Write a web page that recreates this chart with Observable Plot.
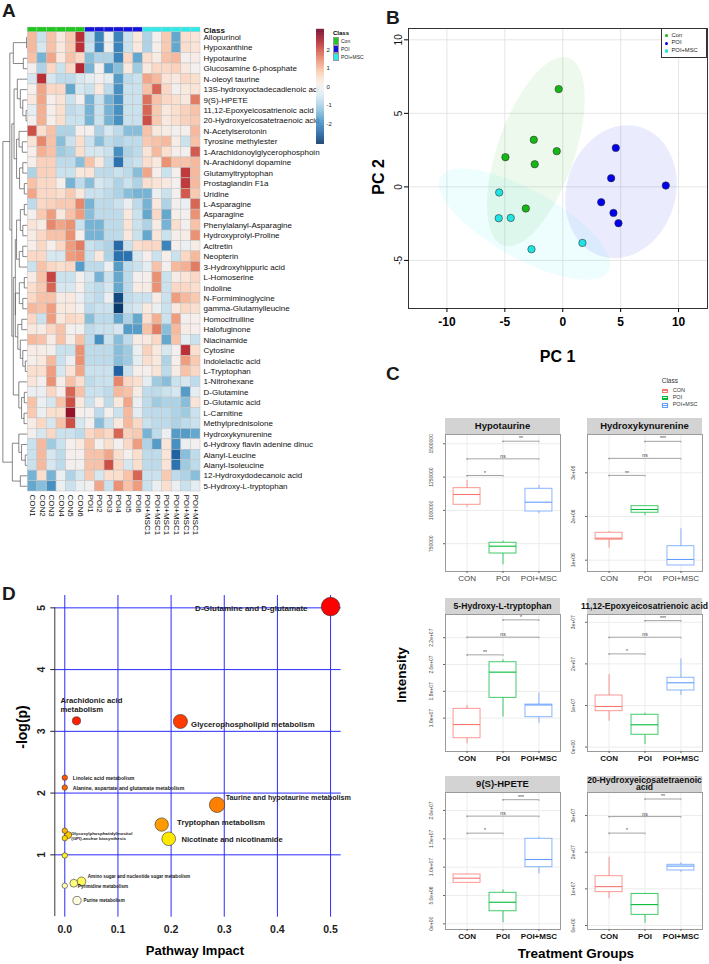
<!DOCTYPE html>
<html><head><meta charset="utf-8">
<script src="https://cdn.jsdelivr.net/npm/d3@7"></script>
<script src="https://cdn.jsdelivr.net/npm/@observablehq/plot@0.6"></script>
<style>
body{margin:0;background:#fff;font-family:"Liberation Sans",Arial,sans-serif;}
#fig{position:relative;width:709px;height:964px;overflow:hidden;background:#fff;}
#fig svg{overflow:visible;}
</style></head>
<body><div id="fig"></div>
<script>
// ================= DATA =================
// Panel A heatmap
const metabolites = ["Allopurinol","Hypoxanthine","Hypotaurine","Glucosamine 6-phosphate","N-oleoyl taurine","13S-hydroxyoctadecadienoic aci","9(S)-HPETE","11,12-Epoxyeicosatrienoic acid","20-Hydroxyeicosatetraenoic acid","N-Acetylserotonin","Tyrosine methylester","1-Arachidonoylglycerophosphoin","N-Arachidonyl dopamine","Glutamyltryptophan","Prostaglandin F1a","Uridine","L-Asparagine","Asparagine","Phenylalanyl-Asparagine","Hydroxyprolyl-Proline","Acitretin","Neopterin","3-Hydroxyhippuric acid","L-Homoserine","Indoline","N-Formiminoglycine","gamma-Glutamylleucine","Homocitrulline","Halofuginone","Niacinamide","Cytosine","Indolelactic acid","L-Tryptophan","1-Nitrohexane","D-Glutamine","D-Glutamic acid","L-Carnitine","Methylprednisolone","Hydroxykynurenine","6-Hydroxy flavin adenine dinuc","Alanyl-Leucine","Alanyl-Isoleucine","12-Hydroxydodecanoic acid","5-Hydroxy-L-tryptophan"];
const samples = ["CON1","CON2","CON3","CON4","CON5","CON6","POI1","POI2","POI3","POI4","POI5","POI6","POI+MSC1","POI+MSC1","POI+MSC1","POI+MSC1","POI+MSC1","POI+MSC1"];
const sampleGroup = ["Con","Con","Con","Con","Con","Con","POI","POI","POI","POI","POI","POI","POI+MSC","POI+MSC","POI+MSC","POI+MSC","POI+MSC","POI+MSC"];
const classGroups = ["Con","POI","POI+MSC"];
const heatValues = [
[1.0,-0.65,0.9,0.3,0.8,2.3,-0.8,-2.05,-0.15,-2.05,-0.65,0.3,-0.95,0.0,0.8,-1.6,0.5,0.4],
[1.0,-0.5,0.9,0.3,0.8,2.3,-0.65,-2.05,-0.15,-2.05,-0.65,0.3,-0.95,0.1,0.8,-1.6,0.5,0.4],
[0.9,-1.45,1.2,0.3,0.9,0.6,-1.3,-0.95,-0.95,-2.05,0.6,-1.6,0.5,0.2,0.9,1.0,0.0,0.2],
[0.0,-0.95,0.6,-0.65,0.6,2.4,-1.45,0.0,-1.75,-1.3,0.3,-1.1,0.3,0.6,0.6,0.7,0.3,0.0],
[-0.5,2.3,-0.5,-0.8,-0.8,-0.5,-0.3,0.0,-0.3,-1.75,-0.8,-0.65,1.2,1.0,0.4,0.3,0.6,0.5],
[0.1,1.2,0.6,0.6,-1.6,-0.5,-0.65,0.3,-0.8,-1.9,-0.65,-0.65,0.9,1.8,0.6,0.0,0.3,0.4],
[0.3,1.2,0.1,0.4,-0.65,0.0,-1.45,-0.65,-1.45,-1.9,-0.65,-0.65,1.7,0.9,0.6,0.5,0.3,1.6],
[-0.3,1.1,0.1,0.5,-0.8,-0.65,-1.45,-0.65,-1.45,-1.9,-0.65,-0.65,1.8,0.8,0.3,0.5,0.7,0.9],
[0.0,1.1,0.1,0.5,-0.65,-0.65,-1.45,-0.65,-1.45,-1.9,-0.65,-0.65,2.0,0.8,0.3,0.5,0.7,0.8],
[2.0,0.5,0.9,-0.95,-0.95,0.1,0.0,-0.95,-0.5,-0.8,-1.3,-1.3,0.9,0.3,0.2,0.0,0.1,1.0],
[0.4,1.5,0.9,-1.3,-0.65,0.5,-0.65,-1.3,-0.8,-0.95,-0.8,-0.8,0.8,0.9,1.0,0.2,-0.65,0.9],
[0.1,1.1,0.9,-1.1,-0.95,0.5,-0.5,-0.5,-0.65,-1.9,-0.95,-0.8,0.4,1.0,0.5,0.1,0.0,1.9],
[0.1,0.7,0.7,-0.8,-0.8,-1.3,0.9,0.3,-0.8,-2.3,-0.8,-0.65,0.5,0.3,1.4,0.9,0.9,1.0],
[-0.95,0.7,0.7,-0.65,-0.65,0.3,0.4,-0.8,-0.8,-0.65,-0.8,-1.3,1.2,0.1,-0.65,0.0,2.2,1.0],
[0.9,0.6,0.6,0.1,-1.45,-0.8,-1.3,-0.5,-0.65,-0.95,-0.65,-0.95,0.5,0.4,0.3,0.0,2.2,1.0],
[1.2,0.6,0.6,0.5,0.8,0.3,-0.65,-0.65,-0.8,-0.95,-1.3,-1.45,-1.45,-0.15,-0.65,0.0,1.9,0.8],
[-0.8,0.6,0.7,0.8,0.8,1.5,-1.45,-0.8,-0.8,-0.65,-0.15,-0.8,-1.45,0.3,-0.95,0.0,-0.15,1.8],
[0.0,0.8,1.3,0.3,0.9,1.3,-1.3,-0.8,-0.8,-0.8,0.3,-0.65,-1.6,0.6,-1.6,0.1,0.0,1.4],
[0.4,0.2,1.5,1.2,1.4,-0.65,-1.45,-1.45,-0.8,-0.8,0.4,-0.65,-0.95,0.2,-1.45,0.5,0.0,0.9],
[0.2,0.6,0.9,0.9,1.4,0.1,-1.45,-1.45,-0.8,-0.8,0.3,-0.65,-1.6,0.4,-0.65,0.1,0.2,1.4],
[0.1,0.6,0.1,0.6,1.3,1.6,-0.65,-0.8,-0.95,-2.4,-0.65,0.5,0.6,0.6,-2.05,0.1,-0.15,0.2],
[0.6,0.6,-0.5,-0.5,1.3,1.4,-0.65,0.3,-0.95,-2.3,-2.3,-0.5,0.1,-0.65,0.1,-0.65,0.6,1.0],
[-0.65,0.9,0.6,0.5,0.6,-1.75,-0.8,-0.8,-0.15,-1.75,-0.8,-0.65,-0.3,0.9,0.0,1.0,1.1,1.6],
[0.2,0.9,2.1,-0.65,-0.65,0.0,-0.5,-1.45,-0.65,-1.6,-0.8,0.0,0.1,1.4,-0.65,0.2,0.4,0.6],
[0.5,0.8,1.8,-0.5,-0.5,0.1,-0.65,-0.8,-0.5,-1.6,-0.8,0.2,0.2,1.4,-0.65,0.6,0.6,0.5],
[0.6,0.9,0.9,0.2,0.3,-0.15,-0.65,-0.8,-0.15,-2.8,-0.8,-0.65,-0.65,0.2,-0.65,1.3,1.0,0.8],
[1.0,0.9,1.3,0.3,0.3,0.0,-0.8,-0.65,-0.65,-3.0,-0.65,-0.5,0.3,-0.15,-0.65,0.3,0.6,0.5],
[0.6,-0.65,1.3,0.3,0.6,0.5,-1.3,-0.8,-0.8,-1.6,-0.95,-1.6,0.5,1.1,-0.65,1.3,0.0,0.1],
[0.3,0.2,0.6,0.9,0.0,0.0,-0.8,-0.65,-0.65,-0.5,-1.75,-1.75,0.9,1.6,-1.3,1.0,0.2,0.1],
[1.0,0.9,0.2,0.9,0.2,0.9,-0.8,-1.9,-0.65,-1.3,-0.8,0.2,0.3,0.6,-1.6,0.9,-0.3,-0.65],
[0.2,0.2,0.0,-0.65,-0.65,1.4,-0.8,-0.8,-0.8,-1.3,-1.1,-0.15,0.7,0.3,-0.5,0.0,2.3,0.5],
[0.1,0.3,1.0,-0.65,-0.15,1.4,-0.8,-0.8,-0.8,-1.3,-1.1,-0.3,0.5,0.3,-0.95,0.1,1.3,0.8],
[0.5,0.5,1.3,-0.5,0.4,1.2,-0.65,-0.65,-0.65,-2.5,-0.65,0.1,0.1,0.4,-0.8,0.2,0.9,0.6],
[0.4,0.0,1.4,0.1,0.9,0.5,-0.8,-0.65,-0.65,1.5,0.6,0.5,-0.3,-1.1,-1.3,-0.65,-0.5,-0.8],
[-0.15,-0.15,0.6,0.1,1.8,0.9,-0.65,-0.65,-0.8,1.0,0.9,0.2,-0.8,-0.8,-0.65,-0.5,-1.75,-0.3],
[0.9,-0.15,-0.5,0.9,2.0,0.3,-0.65,0.1,-0.8,0.3,1.2,-0.15,-0.8,-1.1,-0.95,-0.95,-1.3,0.4],
[0.8,-0.15,0.5,0.5,2.7,0.1,0.0,-0.8,0.0,-0.65,1.0,-0.3,-0.8,-0.8,-0.8,-0.95,-1.1,-0.65],
[0.2,0.6,-0.5,0.9,2.0,-0.5,0.0,-1.3,-0.65,0.3,1.0,0.6,-0.65,-0.8,-0.8,-0.95,-0.8,-0.65],
[0.0,-0.5,0.6,-0.65,-0.65,-0.8,0.6,0.8,0.6,1.8,0.7,0.8,-1.45,-0.8,-0.15,-1.75,-1.75,-1.6],
[-0.65,1.0,-1.1,-0.65,0.0,0.3,0.9,0.0,0.5,0.0,0.6,1.3,-0.95,-1.75,0.4,-1.9,-0.15,0.0],
[-0.65,1.0,-0.5,-0.8,0.1,0.0,0.9,0.9,1.2,0.5,0.0,0.5,-0.8,-0.8,0.4,-2.5,-1.3,-0.8],
[-0.65,1.0,-0.5,-0.8,0.0,0.0,0.9,0.9,2.0,0.6,-0.5,0.5,-0.8,-0.8,0.4,-2.3,-1.1,-0.8],
[-1.45,0.5,-1.45,-0.15,-0.95,-0.5,0.8,-0.5,0.5,0.5,0.9,1.8,-0.65,-0.65,0.8,-0.8,-0.95,-1.3],
[-1.6,-1.3,-1.9,-0.15,-0.65,-0.15,0.0,1.2,-0.65,1.4,0.9,1.3,-0.65,-0.15,0.5,-0.15,-0.65,-0.3]
];
// row dendrogram: [mergeHeight, left, right], leaves = row index
const gA = [0.58,[0.05,0,1],[0.18,2,3]];
const gB = [0.42,4,[0.3,5,[0.2,6,[0.07,7,8]]]];
const gC = [0.45,[0.35,9,[0.22,10,11]],[0.33,[0.2,12,13],[0.14,14,15]]];
const gD = [0.45,[0.3,[0.14,16,17],[0.2,18,19]],[0.34,[0.2,20,21],22]];
const gE = [0.5,[0.34,[0.14,23,24],[0.2,25,26]],[0.4,[0.24,27,28],[0.3,29,[0.2,30,[0.1,31,32]]]]];
const gF = [0.36,33,[0.25,[0.14,34,35],[0.15,36,37]]];
const gG = [0.62,[0.36,38,[0.25,39,[0.1,40,41]]],[0.3,42,43]];
const rowTree = [1.0,[0.72,gA,[0.64,[0.55,gB,gC],[0.58,[0.5,gD,gE],gF]]],gG];

// Panel B PCA
const pcaGroups = ["Con","POI","POI+MSC"];
const pcaGroup = ["Con","Con","Con","Con","Con","Con","POI","POI","POI","POI","POI","POI","POI+MSC","POI+MSC","POI+MSC","POI+MSC","POI+MSC"];
const pc1 = [-0.35,-2.5,-0.52,-4.95,-2.42,-3.19, 4.58,4.18,8.9,3.32,4.38,4.81, -5.49,-5.53,-4.49,-2.7,1.7];
const pc2 = [6.65,3.2,2.43,2.02,1.54,-1.47, 2.65,0.59,0.09,-1.04,-1.77,-2.47, -0.38,-2.13,-2.11,-4.24,-3.81];
const pcaXTicks = [-10,-5,0,5,10];
const pcaYTicks = [-5,0,5,10];

// Panel C boxplots
const boxGroups = ["CON","POI","POI+MSC"];
const boxMetabolites = ["Hypotaurine","Hydroxykynurenine","5-Hydroxy-L-tryptophan","11,12-Epoxyeicosatrienoic acid","9(S)-HPETE","20-Hydroxyeicosatetraenoic\nacid"];
// [lower whisker, Q1, median, Q3, upper whisker] per group
const boxStats = [
 [[1024000,1042000,1119400,1167000,1224500],[591500,676400,731200,756700,768700],[974400,991700,1061500,1162100,1186900]],
 [[1.275e6,1.467e6,1.503e6,1.627e6,1.657e6],[2.023e6,2.085e6,2.16e6,2.236e6,2.24e6],[0.879e6,0.879e6,1.016e6,1.32e6,1.719e6]],
 [[1.408e7,1.45e7,1.552e7,1.669e7,1.694e7],[1.607e7,1.751e7,1.943e7,2.017e7,2.035e7],[1.562e7,1.607e7,1.698e7,1.701e7,1.786e7]],
 [[6.23e6,8.63e6,9.76e6,12.4e6,17.45e6],[0.63e6,2.96e6,5.36e6,7.76e6,8.15e6],[12.4e6,13.6e6,15.46e6,16.66e6,21.2e6]],
 [[7.2e6,7.23e6,8.05e6,8.7e6,8.8e6],[0.18e6,2.22e6,3.81e6,5.47e6,6.0e6],[8.8e6,10.0e6,11.35e6,15.0e6,15.3e6]],
 [[7.3e6,9.1e6,10.6e6,13.45e6,18.6e6],[0.6e6,2.9e6,5.7e6,8.6e6,8.8e6],[14.5e6,15.0e6,16.2e6,16.55e6,17.1e6]]
];
const compPairs = [[1,2],[1,3],[2,3]];
const sigY = [[1262000,1387000,1519500],[2.94e6,3.33e6,3.72e6],[2.072e7,2.204e7,2.333e7],[22.4e6,26.4e6,30.4e6],[16.0e6,19.0e6,21.9e6],[25.2e6,29.7e6,34.5e6]];
const sigLabels = [["*","ns","**"],["**","ns","***"],["**","ns","*"],["*","ns","***"],["*","ns","***"],["*","ns","**"]];
const cTicks = [[750000,1000000,1250000,1500000],[1e6,2e6,3e6],[1.6e7,1.8e7,2.0e7,2.2e7],[0,1e7,2e7,3e7],[0,5e6,1e7,1.5e7,2e7],[0,1e7,2e7,3e7]];
const cTickLabels = [["750000","1000000","1250000","1500000"],["1e+06","2e+06","3e+06"],["1.6e+07","1.8e+07","2.0e+07","2.2e+07"],["0e+00","1e+07","2e+07","3e+07"],["0e+00","5.0e+06","1.0e+07","1.5e+07","2.0e+07"],["0e+00","1e+07","2e+07","3e+07"]];

// Panel D pathway analysis
const pwLabels = ["D-Glutamine and D-glutamate","Glycerophospholipid metabolism","Arachidonic acid\nmetabolism","Taurine and hypotaurine metabolism","Tryptophan metabolism","Nicotinate and nicotinamide","Linoleic acid metabolism","Alanine, aspartate and glutamate metabolism","Glycosylphosphatidylinositol\n(GPI)-anchor biosynthesis","","","","Amino sugar and nucleotide sugar metabolism","Pyrimidine metabolism","","Purine metabolism"];
const pwImpact = [0.5,0.2175,0.022,0.2865,0.1823,0.1955,0,0,0.0064,0,0,0,0.0314,0.017,0,0.023];
const pwLogP = [5.02,3.16,3.17,1.81,1.49,1.26,2.25,2.09,1.32,1.39,1.27,0.99,0.57,0.54,0.5,0.26];
const dXTicks = [0,0.1,0.2,0.3,0.4,0.5];
const dYTicks = [1,2,3,4,5];

// ================= STYLE / LAYOUT =================
const FONT = '"Liberation Sans", Arial, sans-serif';
const classColors = ["#1ec81e","#1414dc","#30eaea"];
const pcaColors = ["#14b814","#0000ee","#20e4e4"];
const boxColors = ["#F8766D","#00BA38","#619CFF"];
const fig = document.getElementById("fig");
function put(node, left, top){ node.style.position="absolute"; node.style.left=left+"px"; node.style.top=top+"px"; fig.appendChild(node); return node; }
function txt(s, x, y, size, o = {}) {
  const d = document.createElement("div");
  d.textContent = s;
  const tx = o.anchor === "start" ? "0" : "-50%";
  Object.assign(d.style, {position:"absolute", left:x+"px", top:y+"px", fontSize:size+"px", fontWeight:o.weight||"normal",
    color:o.color||"#000", whiteSpace:"pre", lineHeight:o.lh||"1", fontFamily:FONT, textAlign:"center",
    transform:`translate(${tx},-50%) rotate(${o.rotate||0}deg)`});
  fig.appendChild(d); return d;
}
const baseStyle = {fontFamily: FONT, background: "none", overflow: "visible"};

// ---------- Panel A ----------
const cells = [];
heatValues.forEach((row, r) => row.forEach((v, c) => cells.push({r, c, v})));
const segs = [];
function walk(node) {
  if (typeof node === "number") return {y: node + 0.5, h: 0};
  const [h, a, b] = node; const A = walk(a), B = walk(b);
  segs.push({h1: A.h, y1: A.y, h2: h, y2: A.y}, {h1: B.h, y1: B.y, h2: h, y2: B.y}, {h1: h, y1: A.y, h2: h, y2: B.y});
  return {y: (A.y + B.y) / 2, h};
}
walk(rowTree);
const DEND = 2.6;
const sampleIdx = samples.map((d, i) => i);
const heatColor = {type: "linear", domain: [-3.1, 3.1], scheme: "RdBu", reverse: true};
const heat = Plot.plot({
  width: 360, height: 550, marginLeft: 0, marginRight: 160, marginTop: 27, marginBottom: 59,
  x: {domain: [-2.845, 18], axis: null},
  y: {domain: [-0.45, 44], reverse: true, axis: null},
  color: heatColor, style: baseStyle,
  marks: [
    Plot.link(segs, {x1: d => -d.h1 * DEND, y1: "y1", x2: d => -d.h2 * DEND, y2: "y2", stroke: "#555", strokeWidth: 0.7}),
    Plot.rect(cells, {x1: "c", x2: d => d.c + 1, y1: "r", y2: d => d.r + 1, fill: "v", stroke: "#c2c2c2", strokeWidth: 0.5}),
    ...classGroups.map((g, gi) => Plot.rect(sampleIdx.filter(i => sampleGroup[i] === g), {x1: i => i, x2: i => i + 1, y1: -0.45, y2: 0, fill: classColors[gi], stroke: "#c2c2c2", strokeWidth: 0.4})),
    Plot.text(metabolites, {x: 18, y: (d, i) => i + 0.5, text: d => d, textAnchor: "start", dx: 3, fontSize: 8, fill: "#111"}),
    Plot.text(["Class"], {x: 18, y: -0.2, text: d => d, textAnchor: "start", dx: 3, fontSize: 8, fontWeight: "bold", fill: "#111"}),
    Plot.text(samples, {x: (d, i) => i + 0.5, y: 44, text: d => d, rotate: 90, textAnchor: "start", dy: 3, fontSize: 8, fill: "#111"})
  ]
});
put(heat, 0, 0);
const steps = d3.range(-3.1, 3.1, 0.02);
const heatLegend = Plot.plot({
  width: 30, height: 115, marginLeft: 0, marginRight: 22, marginTop: 0, marginBottom: 0,
  x: {domain: [0, 1], axis: null}, y: {domain: [-3.1, 3.1], axis: null},
  color: heatColor, style: baseStyle,
  marks: [
    Plot.rect(steps, {x1: 0, x2: 1, y1: d => d, y2: d => d + 0.03, fill: d => d + 0.01}),
    Plot.text([-2, -1, 0, 1, 2], {x: 1, y: d => d, text: d => String(d), textAnchor: "start", dx: 2, fontSize: 6, fill: "#222"})
  ]
});
put(heatLegend, 316, 29);
txt("Class", 333, 33, 6, {anchor: "start", weight: "bold"});
classGroups.forEach((g, i) => {
  const sw = document.createElement("div");
  Object.assign(sw.style, {width: "6px", height: "8px", background: classColors[i], border: "0.5px solid #999", boxSizing: "border-box"});
  put(sw, 333, 37 + i * 8);
  txt(g, 341, 41 + i * 8, 5, {anchor: "start", color: "#222"});
});
txt("A", 2, 10, 19, {anchor: "start", weight: "bold", color: "#1a1a1a"});

// ---------- Panel B ----------
function dataEllipse(xs, ys, n = 120) {
  const mx = d3.mean(xs), my = d3.mean(ys);
  const sxx = d3.variance(xs), syy = d3.variance(ys);
  const sxy = d3.sum(xs.map((x, i) => (x - mx) * (ys[i] - my))) / (xs.length - 1);
  const tr = sxx + syy, det = sxx * syy - sxy * sxy, disc = Math.sqrt(Math.max(0, tr * tr / 4 - det));
  const l1 = tr / 2 + disc, l2 = tr / 2 - disc;
  const th = Math.atan2(l1 - sxx, sxy);
  const k = Math.sqrt(5.991);
  return d3.range(n + 1).map(i => {
    const t = 2 * Math.PI * i / n, a = k * Math.sqrt(l1) * Math.cos(t), b = k * Math.sqrt(l2) * Math.sin(t);
    return {x: mx + a * Math.cos(th) - b * Math.sin(th), y: my + a * Math.sin(th) + b * Math.cos(th)};
  });
}
const pts = pc1.map((x, i) => ({x, y: pc2[i], g: pcaGroup[i]}));
const PX = [-13.32, 12.5];
const pca = Plot.plot({
  width: 354, height: 372, marginLeft: 53, marginRight: 2, marginTop: 28, marginBottom: 64,
  x: {domain: PX, axis: null}, y: {domain: [-8.27, 10.77], axis: null},
  color: {domain: pcaGroups, range: pcaColors}, style: baseStyle,
  marks: [
    Plot.gridX(pcaXTicks, {stroke: "#dedede", strokeOpacity: 1, strokeWidth: 0.8}),
    Plot.gridY(pcaYTicks, {stroke: "#dedede", strokeOpacity: 1, strokeWidth: 0.8}),
    ...pcaGroups.map((g, i) => {
      const sub = pts.filter(d => d.g === g);
      return Plot.line(dataEllipse(sub.map(d => d.x), sub.map(d => d.y)), {x: "x", y: "y", fill: pcaColors[i], fillOpacity: 0.08, stroke: "none"});
    }),
    Plot.frame({stroke: "#333", strokeWidth: 1}),
    Plot.dot(pts, {x: "x", y: "y", fill: "g", stroke: "#333", strokeWidth: 0.6, r: 3.7}),
    Plot.axisX(pcaXTicks, {tickSize: 4, tickPadding: 5, tickFormat: d => String(d), fontSize: 12, fontWeight: "bold", label: null}),
    Plot.axisY(pcaYTicks, {tickSize: 4, tickFormat: () => "", label: null}),
    Plot.text(pcaYTicks, {x: PX[0], y: d => d, text: d => String(d), rotate: -90, dx: -10, fontSize: 10, fill: "#111"})
  ]
});
put(pca, 355, 0);
txt("PC 1", 557.5, 356.7, 16, {weight: "bold"});
txt("PC 2", 379, 177, 16, {weight: "bold", rotate: -90});
txt("B", 386, 16.5, 19, {anchor: "start", weight: "bold", color: "#1a1a1a"});
{
  const box = document.createElement("div");
  Object.assign(box.style, {width: "46px", height: "30px", border: "0.8px solid #333", boxSizing: "border-box", background: "#fff"});
  put(box, 661, 28);
  pcaGroups.forEach((g, i) => {
    const dot = document.createElement("div");
    Object.assign(dot.style, {width: "3.4px", height: "3.4px", borderRadius: "50%", background: pcaColors[i]});
    put(dot, 665, 34 + i * 7.6);
    txt(g, 671.5, 35.7 + i * 7.6, 5.8, {anchor: "start", color: "#222"});
  });
}

// ---------- Panel C ----------
const cPanels = [
  {left: 445, top: 434, yDomain: [541200, 1569800], bold: false},
  {left: 587, top: 434, yDomain: [0.741e6, 3.876e6], bold: false},
  {left: 445, top: 614, yDomain: [1.351e7, 2.373e7], bold: true},
  {left: 587, top: 614, yDomain: [-1.06e6, 31.87e6], bold: true},
  {left: 445, top: 792, yDomain: [-1.0e6, 23.17e6], bold: true},
  {left: 587, top: 792, yDomain: [-1.09e6, 36.27e6], bold: true}
];
const FW = 115, FH = 137;
cPanels.forEach((p, k) => {
  const boxes = boxGroups.map((g, gi) => { const [lo, q1, md, q3, hi] = boxStats[k][gi]; return {g, pos: gi + 1, lo, q1, md, q3, hi}; });
  const br = compPairs.map(([a, b], j) => ({a, b, y: sigY[k][j], label: sigLabels[k][j]}));
  const span = p.yDomain[1] - p.yDomain[0];
  const tips = br.flatMap(d => [{x: d.a, y: d.y}, {x: d.b, y: d.y}]);
  const plot = Plot.plot({
    width: 32 + FW + 2, height: 1 + FH + 20, marginLeft: 32, marginRight: 2, marginTop: 1, marginBottom: 20,
    x: {domain: [0.4, 3.6], axis: null}, y: {domain: p.yDomain, axis: null},
    color: {domain: boxGroups, range: boxColors}, style: baseStyle,
    marks: [
      Plot.ruleY(cTicks[k], {stroke: "#ececec"}),
      Plot.ruleX([1, 2, 3], {stroke: "#ececec"}),
      Plot.ruleX(boxes, {x: "pos", y1: "lo", y2: "q1", stroke: "g", strokeOpacity: 0.75}),
      Plot.ruleX(boxes, {x: "pos", y1: "q3", y2: "hi", stroke: "g", strokeOpacity: 0.75}),
      Plot.rect(boxes, {x1: d => d.pos - 0.375, x2: d => d.pos + 0.375, y1: "q1", y2: "q3", fill: "white", stroke: "g", strokeOpacity: 0.75}),
      Plot.ruleY(boxes, {x1: d => d.pos - 0.375, x2: d => d.pos + 0.375, y: "md", stroke: "g", strokeWidth: 1.1}),
      Plot.ruleY(br, {x1: "a", x2: "b", y: "y", stroke: "#666", strokeWidth: 0.6}),
      Plot.ruleX(tips, {x: "x", y1: "y", y2: d => d.y - span * 0.012, stroke: "#666", strokeWidth: 0.6}),
      Plot.text(br, {x: d => (d.a + d.b) / 2, y: "y", text: "label", dy: -2.5, fontSize: 5, fill: "#333"}),
      Plot.frame({stroke: "#9a9a9a"}),
      Plot.axisY(cTicks[k], {tickSize: 2, tickFormat: () => "", label: null, stroke: "#666"}),
      Plot.axisX([1, 2, 3], {tickSize: 2, tickFormat: () => "", label: null, stroke: "#666"}),
      Plot.text(cTicks[k], {x: 0.4, y: d => d, text: (d, i) => cTickLabels[k][i], rotate: -90, dx: -14, fontSize: 5, fill: "#444"}),
      Plot.text([1, 2, 3], {x: d => d, y: p.yDomain[0], text: d => boxGroups[d - 1], dy: 6.5, fontSize: 8, lineAnchor: "middle",
        fontWeight: p.bold ? "bold" : "normal", fill: p.bold ? "#111" : "#444"})
    ]
  });
  put(plot, p.left - 32, p.top - 1);
  const hd = document.createElement("div");
  const two = boxMetabolites[k].includes("\n");
  Object.assign(hd.style, {width: FW + "px", height: "16px", background: "#d3d3d3", display: "flex", alignItems: "center", justifyContent: "center",
    fontSize: (boxMetabolites[k].length > 20 ? 8.6 : 9.5) + "px", fontWeight: "bold", fontFamily: FONT, whiteSpace: "pre", lineHeight: two ? "6.6px" : "1",
    textAlign: "center", color: "#111", overflow: "visible"});
  hd.textContent = boxMetabolites[k];
  put(hd, p.left, p.top - 16);
});
txt("C", 386, 372.5, 19, {anchor: "start", weight: "bold", color: "#1a1a1a"});
txt("Class", 661.7, 381, 6.5, {anchor: "start", color: "#333"});
boxGroups.forEach((g, i) => {
  const k = document.createElement("div");
  Object.assign(k.style, {width: "6px", height: "4.5px", border: "0.8px solid " + boxColors[i], boxSizing: "border-box", background: "#fff"});
  put(k, 662, 388.5 + i * 7.3);
  const m = document.createElement("div");
  Object.assign(m.style, {width: "6px", height: "0.8px", background: boxColors[i]});
  put(m, 662, 390.4 + i * 7.3);
  txt(g, 672.7, 390.8 + i * 7.3, 5.5, {anchor: "start", color: "#333"});
});
txt("Intensity", 401.7, 675, 13.5, {weight: "bold", rotate: -90});
txt("Treatment Groups", 576, 954, 13.5, {weight: "bold"});

// ---------- Panel D ----------
const ranks = d3.rank(pwLogP);
const pw = pwLabels.map((label, i) => ({label, impact: pwImpact[i], logp: pwLogP[i], rank: ranks[i]}));
const DX = [-0.0188, 0.52];
const labelSpec = [
  {i: 0, dx: -23, dy: 1, anchor: "end", size: 8},
  {i: 1, dx: 10.7, dy: 2.6, anchor: "start", size: 7.8},
  {i: 2, dx: -16, dy: -16.4, anchor: "start", size: 7.7},
  {i: 3, dx: 8.6, dy: -7, anchor: "start", size: 7.2},
  {i: 4, dx: 15.4, dy: -2, anchor: "start", size: 7.8},
  {i: 5, dx: 12.7, dy: 0.4, anchor: "start", size: 7.6},
  {i: 6, dx: 8, dy: 0.7, anchor: "start", size: 5.2},
  {i: 7, dx: 8, dy: 0.3, anchor: "start", size: 5.2},
  {i: 8, dx: 3, dy: 0.5, anchor: "start", size: 4.4},
  {i: 12, dx: 6.3, dy: -5, anchor: "start", size: 4.6},
  {i: 13, dx: 4, dy: 3.3, anchor: "start", size: 4.6},
  {i: 15, dx: 6.6, dy: -0.7, anchor: "start", size: 4.6}
];
const dPlot = Plot.plot({
  width: 350, height: 390, marginLeft: 54.3, marginRight: 9.3, marginTop: 25, marginBottom: 43.3,
  x: {domain: DX, axis: null}, y: {domain: [-0.01, 5.2], axis: null},
  r: {type: "sqrt", domain: [0, 0.5], range: [2.7, 9.3]},
  color: {type: "linear", domain: [0, 2.5, 5, 7.5, 10, 12.5, 15], range: ["#ffffe0", "#ffff70", "#ffe800", "#ffc000", "#ff8000", "#ff4a00", "#ff0000"]},
  style: baseStyle,
  marks: [
    Plot.ruleX(dXTicks, {stroke: "#2b2bff", strokeWidth: 1}),
    Plot.ruleY(dYTicks, {stroke: "#2b2bff", strokeWidth: 1}),
    Plot.ruleX([DX[0]], {y1: 0, y2: 5, stroke: "#222", strokeWidth: 0.9}),
    Plot.axisY(dYTicks, {tickSize: 4, tickFormat: () => "", label: null, stroke: "#222"}),
    Plot.text(dYTicks, {x: DX[0], y: d => d, text: d => String(d), rotate: -90, dx: -13, fontSize: 10.5, fontWeight: "bold", fill: "#222"}),
    Plot.axisX(dXTicks, {tickSize: 0, tickPadding: 8, tickFormat: d3.format(".1f"), fontSize: 10.5, fontWeight: "bold", label: null, fill: "#222"}),
    Plot.dot(pw, {x: "impact", y: "logp", r: "impact", fill: "rank", stroke: "#333", strokeWidth: 0.6}),
    ...labelSpec.map(s => Plot.text([pw[s.i]], {x: "impact", y: "logp", text: "label", dx: s.dx, dy: s.dy, textAnchor: s.anchor,
      fontSize: s.size, fontWeight: "bold", fill: "#1a1a1a", lineHeight: 1.15, lineAnchor: "middle"}))
  ]
});
put(dPlot, 0, 570);
txt("D", 2, 592.5, 19, {anchor: "start", weight: "bold", color: "#1a1a1a"});
txt("-log(p)", 21.7, 726.7, 14, {weight: "bold", rotate: -90});
txt("Pathway Impact", 195, 950, 13, {weight: "bold"});
</script>
</body></html>
